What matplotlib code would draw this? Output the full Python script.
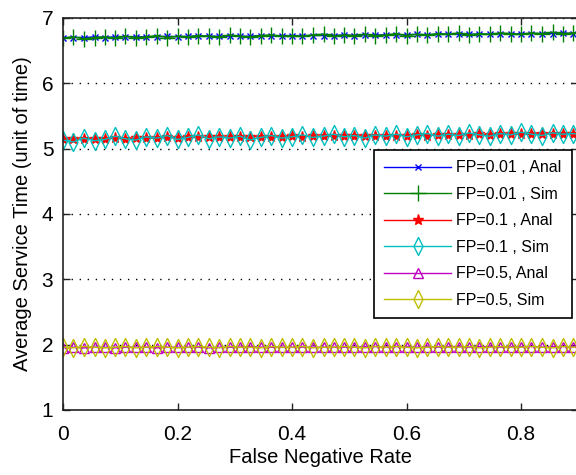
import matplotlib
matplotlib.use("Agg")
import matplotlib.pyplot as plt

########################################################################
# Data

fn_rate = [0.000, 0.018, 0.036, 0.055, 0.073, 0.091, 0.109, 0.127, 0.145, 0.164,
           0.182, 0.200, 0.218, 0.236, 0.255, 0.273, 0.291, 0.309, 0.327, 0.345,
           0.364, 0.382, 0.400, 0.418, 0.436, 0.455, 0.473, 0.491, 0.509, 0.527,
           0.545, 0.564, 0.582, 0.600, 0.618, 0.636, 0.655, 0.673, 0.691, 0.709,
           0.727, 0.745, 0.764, 0.782, 0.800, 0.818, 0.836, 0.855, 0.873, 0.891,
           0.909]

fp001_anal = [6.70, 6.70, 6.70, 6.71, 6.70, 6.71, 6.71, 6.71, 6.71, 6.71,
              6.72, 6.71, 6.72, 6.72, 6.72, 6.72, 6.72, 6.72, 6.72, 6.73,
              6.72, 6.73, 6.73, 6.73, 6.73, 6.73, 6.73, 6.74, 6.73, 6.74,
              6.74, 6.74, 6.74, 6.74, 6.75, 6.74, 6.75, 6.75, 6.75, 6.75,
              6.75, 6.75, 6.76, 6.75, 6.76, 6.76, 6.76, 6.76, 6.77, 6.76,
              6.77]
fp001_sim = [6.69, 6.71, 6.68, 6.70, 6.71, 6.69, 6.72, 6.70, 6.71, 6.73,
             6.70, 6.72, 6.71, 6.73, 6.72, 6.71, 6.74, 6.72, 6.71, 6.73,
             6.74, 6.72, 6.73, 6.72, 6.74, 6.75, 6.72, 6.74, 6.73, 6.75,
             6.73, 6.74, 6.76, 6.73, 6.75, 6.74, 6.76, 6.75, 6.77, 6.74,
             6.76, 6.75, 6.77, 6.76, 6.75, 6.77, 6.76, 6.78, 6.76, 6.77,
             6.78]
fp01_anal = [5.14, 5.14, 5.15, 5.15, 5.15, 5.16, 5.15, 5.16, 5.16, 5.16,
             5.17, 5.16, 5.17, 5.17, 5.17, 5.17, 5.18, 5.17, 5.18, 5.18,
             5.18, 5.18, 5.19, 5.18, 5.19, 5.19, 5.19, 5.19, 5.20, 5.19,
             5.20, 5.20, 5.20, 5.20, 5.21, 5.20, 5.21, 5.21, 5.21, 5.21,
             5.22, 5.21, 5.22, 5.22, 5.22, 5.22, 5.23, 5.22, 5.23, 5.23,
             5.23]
fp01_sim = [5.13, 5.10, 5.16, 5.12, 5.14, 5.19, 5.15, 5.13, 5.18, 5.16,
            5.20, 5.14, 5.17, 5.21, 5.15, 5.18, 5.16, 5.19, 5.13, 5.17,
            5.20, 5.16, 5.18, 5.21, 5.17, 5.19, 5.22, 5.18, 5.20, 5.16,
            5.21, 5.19, 5.22, 5.18, 5.21, 5.23, 5.19, 5.22, 5.20, 5.24,
            5.21, 5.19, 5.23, 5.21, 5.25, 5.22, 5.20, 5.24, 5.22, 5.23,
            5.21]
fp05_anal = [1.95, 1.96, 1.95, 1.96, 1.96, 1.95, 1.96, 1.96, 1.96, 1.95,
             1.96, 1.96, 1.96, 1.96, 1.95, 1.96, 1.96, 1.96, 1.97, 1.96,
             1.96, 1.96, 1.96, 1.96, 1.96, 1.96, 1.96, 1.96, 1.96, 1.97,
             1.97, 1.96, 1.97, 1.97, 1.96, 1.97, 1.96, 1.97, 1.97, 1.96,
             1.97, 1.97, 1.96, 1.97, 1.97, 1.97, 1.96, 1.97, 1.97, 1.97,
             1.97]
fp05_sim = [1.96, 1.95, 1.97, 1.96, 1.95, 1.96, 1.97, 1.95, 1.96, 1.97,
            1.96, 1.95, 1.96, 1.97, 1.96, 1.95, 1.97, 1.96, 1.96, 1.95,
            1.97, 1.96, 1.96, 1.97, 1.95, 1.96, 1.96, 1.97, 1.96, 1.95,
            1.97, 1.96, 1.97, 1.96, 1.95, 1.96, 1.97, 1.96, 1.96, 1.97,
            1.95, 1.96, 1.97, 1.96, 1.96, 1.97, 1.96, 1.95, 1.97, 1.96,
            1.97]

labels = ["FP=0.01 , Anal", "FP=0.01 , Sim", "FP=0.1 , Anal",
          "FP=0.1 , Sim", "FP=0.5, Anal", "FP=0.5, Sim"]

########################################################################
# Plot

plt.rcParams["font.family"] = ["Liberation Sans", "DejaVu Sans"]

# tall thin diamond, like the MATLAB one in the picture
thin_diamond = [(0, 1), (0.5, 0), (0, -1), (-0.5, 0), (0, 1)]

fig = plt.figure(figsize=(5.76, 4.75), dpi=100)
ax = fig.add_axes([0.1094, 0.137, 0.8946, 0.8253])

ax.plot(fn_rate, fp001_anal, color="blue", lw=1, marker="x", ms=5, mew=1)
ax.plot(fn_rate, fp001_sim, color="green", lw=1, marker="+", ms=11, mew=1)
ax.plot(fn_rate, fp01_anal, color="red", lw=1, marker="*", ms=8, mew=1)
ax.plot(fn_rate, fp01_sim, color="c", lw=1, marker=thin_diamond, ms=13, mew=1, mfc="none")
ax.plot(fn_rate, fp05_anal, color="m", lw=1, marker="^", ms=7, mew=1, mfc="none")
ax.plot(fn_rate, fp05_sim, color=(0.75, 0.75, 0), lw=1, marker=thin_diamond, ms=13, mew=1, mfc="none")

ax.set_xlim(0, 0.9)
ax.set_ylim(1, 7)
ax.set_xticks([0, 0.2, 0.4, 0.6, 0.8])
ax.set_xticklabels(["0", "0.2", "0.4", "0.6", "0.8"])
ax.set_yticks([1, 2, 3, 4, 5, 6, 7])

for lab in ax.get_xticklabels() + ax.get_yticklabels():
    lab.set_fontsize(15)

ax.tick_params(direction="in", length=5, width=1, top=True, right=True,
               color="#222222", labelcolor="black")
ax.tick_params(axis="x", pad=11)
ax.tick_params(axis="y", pad=7)
for s in ax.spines.values():
    s.set_linewidth(1.2)
    s.set_color("#222222")

ax.yaxis.grid(True, color="black", lw=1, linestyle=(0, (1, 4.8)))
ax.set_axisbelow(True)

ax.set_xlabel("False Negative Rate", fontsize=14.5, labelpad=3)
ax.set_ylabel("Average Service Time (unit of time)", fontsize=14.5, labelpad=7)

leg = ax.legend(labels, loc="upper left", bbox_to_anchor=(0.6035, 0.663),
                borderaxespad=0, fontsize=11.5, handlelength=4.2,
                handletextpad=0.3, labelspacing=0.72, borderpad=0.65,
                fancybox=False, framealpha=1, edgecolor="black")
leg.get_frame().set_linewidth(1.2)

fig.savefig("out.png", dpi=100)
